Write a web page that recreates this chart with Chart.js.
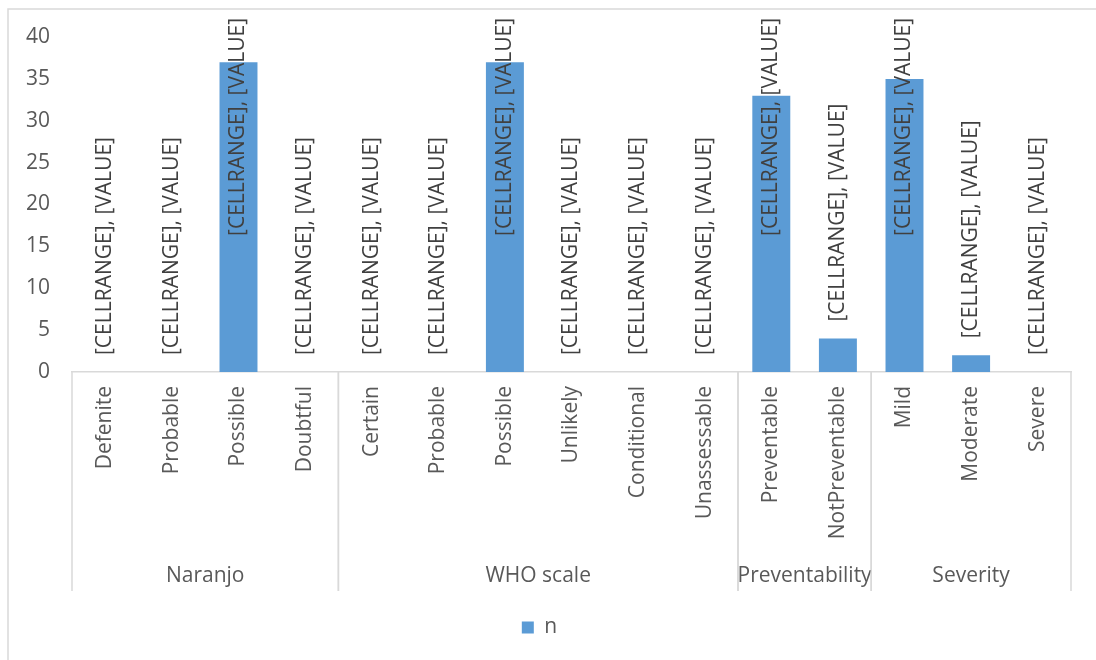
<!DOCTYPE html>
<html>
<head>
<meta charset="utf-8">
<script src="https://cdn.jsdelivr.net/npm/chart.js@4/dist/chart.umd.min.js"></script>
<style>
    body { margin: 0; background: #fff; }
    #wrap { width: 1096px; height: 660px; position: relative; }
</style>
</head>
<body>
<div id="wrap"><canvas id="adrChart" width="1096" height="660"></canvas></div>
<script>
// categories and their groups
const categories = ['Defenite', 'Probable', 'Possible', 'Doubtful',
    'Certain', 'Probable', 'Possible', 'Unlikely', 'Conditional', 'Unassessable',
    'Preventable', 'NotPreventable',
    'Mild', 'Moderate', 'Severe'];
const groupNames = ['Naranjo', 'WHO scale', 'Preventability', 'Severity'];
const groupSizes = [4, 6, 2, 3];

// series n
const nValues = [0, 0, 37, 0, 0, 0, 37, 0, 0, 0, 33, 4, 35, 2, 0];
const yTicks = [0, 5, 10, 15, 20, 25, 30, 35, 40];

const FONT = "'Open Sans', 'Liberation Sans', sans-serif";
const GREY_TEXT = '#595959';
const LINE = '#d9d9d9';

// outer frame of the chart object
const framePlugin = {
    id: 'frame',
    beforeDraw(chart) {
        const ctx = chart.ctx;
        ctx.save();
        ctx.fillStyle = '#fff';
        ctx.fillRect(0, 0, chart.width, chart.height);
        ctx.strokeStyle = LINE;
        ctx.lineWidth = 1.5;
        ctx.beginPath();
        ctx.moveTo(8, chart.height);
        ctx.lineTo(8, 9);
        ctx.lineTo(chart.width, 9);
        ctx.stroke();
        ctx.restore();
    }
};

// second level of the category axis: separators and group names
const groupAxisPlugin = {
    id: 'groupAxis',
    afterDraw(chart) {
        const ctx = chart.ctx;
        const x = chart.scales.x;
        const top = chart.chartArea.bottom;
        const bottom = top + 219;
        const half = (x.getPixelForValue(1) - x.getPixelForValue(0)) / 2;
        ctx.save();
        ctx.strokeStyle = LINE;
        ctx.lineWidth = 1.5;
        ctx.fillStyle = GREY_TEXT;
        ctx.font = '21px ' + FONT;
        ctx.textAlign = 'center';
        ctx.textBaseline = 'middle';
        let start = 0;
        groupSizes.forEach((size, i) => {
            const left = x.getPixelForValue(start) - half;
            const right = x.getPixelForValue(start + size - 1) + half;
            ctx.beginPath();
            ctx.moveTo(left, top);
            ctx.lineTo(left, bottom);
            ctx.moveTo(right, top);
            ctx.lineTo(right, bottom);
            ctx.stroke();
            ctx.fillText(groupNames[i], (left + right) / 2, top + 204);
            start += size;
        });
        ctx.restore();
    }
};

// rotated data labels above each bar, kept inside the chart
const barLabelPlugin = {
    id: 'barLabels',
    afterDatasetsDraw(chart) {
        const ctx = chart.ctx;
        const text = '[CELLRANGE], [VALUE]';
        ctx.save();
        ctx.font = '21px ' + FONT;
        ctx.fillStyle = '#404040';
        ctx.textAlign = 'left';
        ctx.textBaseline = 'middle';
        const w = ctx.measureText(text).width;
        chart.getDatasetMeta(0).data.forEach(bar => {
            let start = bar.y - 17;
            if (start - w < 18) start = 18 + w;
            ctx.save();
            ctx.translate(bar.x, start);
            ctx.rotate(-Math.PI / 2);
            ctx.fillText(text, 0, 0);
            ctx.restore();
        });
        ctx.restore();
    }
};

new Chart(document.getElementById('adrChart').getContext('2d'), {
    type: 'bar',
    data: {
        labels: categories,
        datasets: [{
            label: 'n',
            data: nValues,
            backgroundColor: '#5b9bd5',
            borderWidth: 0,
            barPercentage: 0.57,
            categoryPercentage: 1
        }]
    },
    options: {
        responsive: false,
        animation: false,
        layout: {
            padding: { left: 8, right: 25, top: 37, bottom: 12 }
        },
        plugins: {
            legend: {
                position: 'bottom',
                labels: {
                    boxWidth: 12,
                    boxHeight: 12,
                    padding: 10,
                    color: GREY_TEXT,
                    font: { family: FONT, size: 21 }
                }
            },
            tooltip: { enabled: false }
        },
        scales: {
            x: {
                grid: { display: false, drawTicks: false },
                border: { display: true, color: LINE, width: 1.5 },
                ticks: {
                    color: GREY_TEXT,
                    font: { family: FONT, size: 21 },
                    minRotation: 90,
                    maxRotation: 90,
                    autoSkip: false,
                    padding: 14
                },
                afterFit(scale) { scale.height = 235; }
            },
            y: {
                min: 0,
                max: 40,
                grid: { display: false, drawTicks: false },
                border: { display: false },
                afterBuildTicks(scale) { scale.ticks = yTicks.map(v => ({ value: v })); },
                ticks: {
                    color: GREY_TEXT,
                    font: { family: FONT, size: 21 },
                    padding: 22
                },
                afterFit(scale) { scale.width = 64; }
            }
        }
    },
    plugins: [framePlugin, groupAxisPlugin, barLabelPlugin]
});
</script>
</body>
</html>
